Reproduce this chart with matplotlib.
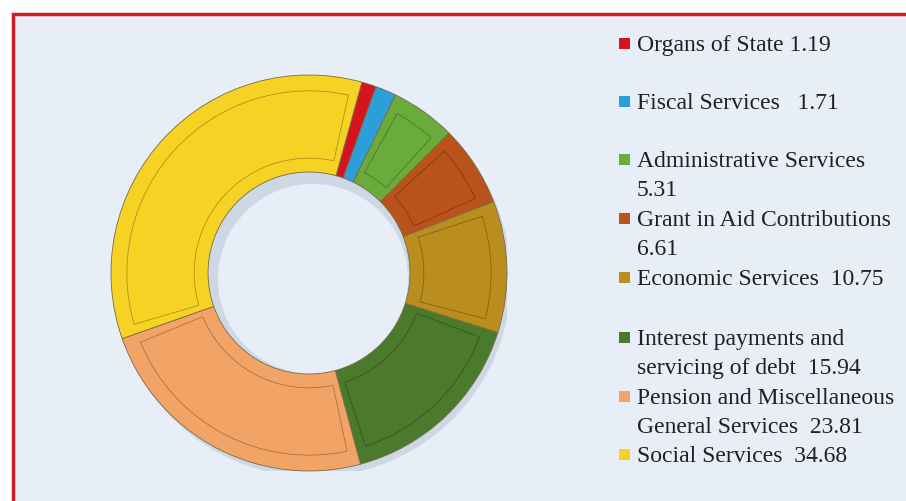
import matplotlib
matplotlib.use('Agg')
import matplotlib.pyplot as plt
from matplotlib.patches import Rectangle, Wedge

# Data
names = ["Organs of State", "Fiscal Services", "Administrative Services",
         "Grant in Aid Contributions", "Economic Services",
         "Interest payments and\nservicing of debt",
         "Pension and Miscellaneous\nGeneral Services", "Social Services"]
values = [1.19, 1.71, 5.31, 6.61, 10.75, 15.94, 23.81, 34.68]
seps = [" ", "   ", "\n", "\n", "  ", "  ", "  ", "  "]
colors = ["#d7141e", "#2c9fd9", "#6bab3b", "#b9531b", "#b98e1e",
          "#4b7a2d", "#f2a466", "#f6d225"]

W, H = 906, 501
fig = plt.figure(figsize=(W / 100, H / 100), dpi=100, facecolor="white")

# panel background with red frame
bg = fig.add_axes([0, 0, 1, 1], zorder=-5)
bg.set_xlim(0, W)
bg.set_ylim(H, 0)
bg.axis("off")
bg.add_patch(Rectangle((13, 14), W + 20, H + 20, facecolor="#e7eef8",
                       edgecolor="#d01c24", lw=2.5))

# donut
cx, cy, r = 309, H - 273, 198
ax = fig.add_axes([(cx - r) / W, (cy - r) / H, 2 * r / W, 2 * r / H], zorder=1)
ax.axis("off")

# soft shadow ring
ax.add_patch(Wedge((0.02, -0.03), 1.0, 0, 360, width=0.52, facecolor="#c4cfdd",
                   edgecolor="none", alpha=0.7, zorder=0))

wedges, _ = ax.pie(values, colors=colors, startangle=74.5, counterclock=False,
                   radius=1.0, wedgeprops=dict(width=0.49, edgecolor="#7a6a45", linewidth=0.6))
for w in wedges:
    w.set_zorder(2)

# bevel outline inside each segment
for w in wedges:
    span = w.theta2 - w.theta1
    if span < 8:
        continue
    ax.add_patch(Wedge((0, 0), 0.92, w.theta1 + 3.0, w.theta2 - 3.0, width=0.34,
                       facecolor="none", edgecolor="black", linewidth=0.6, alpha=0.3, zorder=3))
ax.set_xlim(-1.0, 1.0)
ax.set_ylim(-1.0, 1.0)
ax.set_aspect("equal")

# legend drawn by hand
ys = [44, 102, 160, 219, 278, 338, 397, 455]
for name, val, sep, col, y in zip(names, values, seps, colors, ys):
    bg.add_patch(Rectangle((619, y - 6), 11, 11, facecolor=col, edgecolor="none"))
    bg.text(637, y - 9, f"{name}{sep}{val:.2f}", ha="left", va="top",
            fontsize=17, family="Liberation Serif", color="#231f20", linespacing=1.5)

plt.savefig("out.png", dpi=100, facecolor="white")
